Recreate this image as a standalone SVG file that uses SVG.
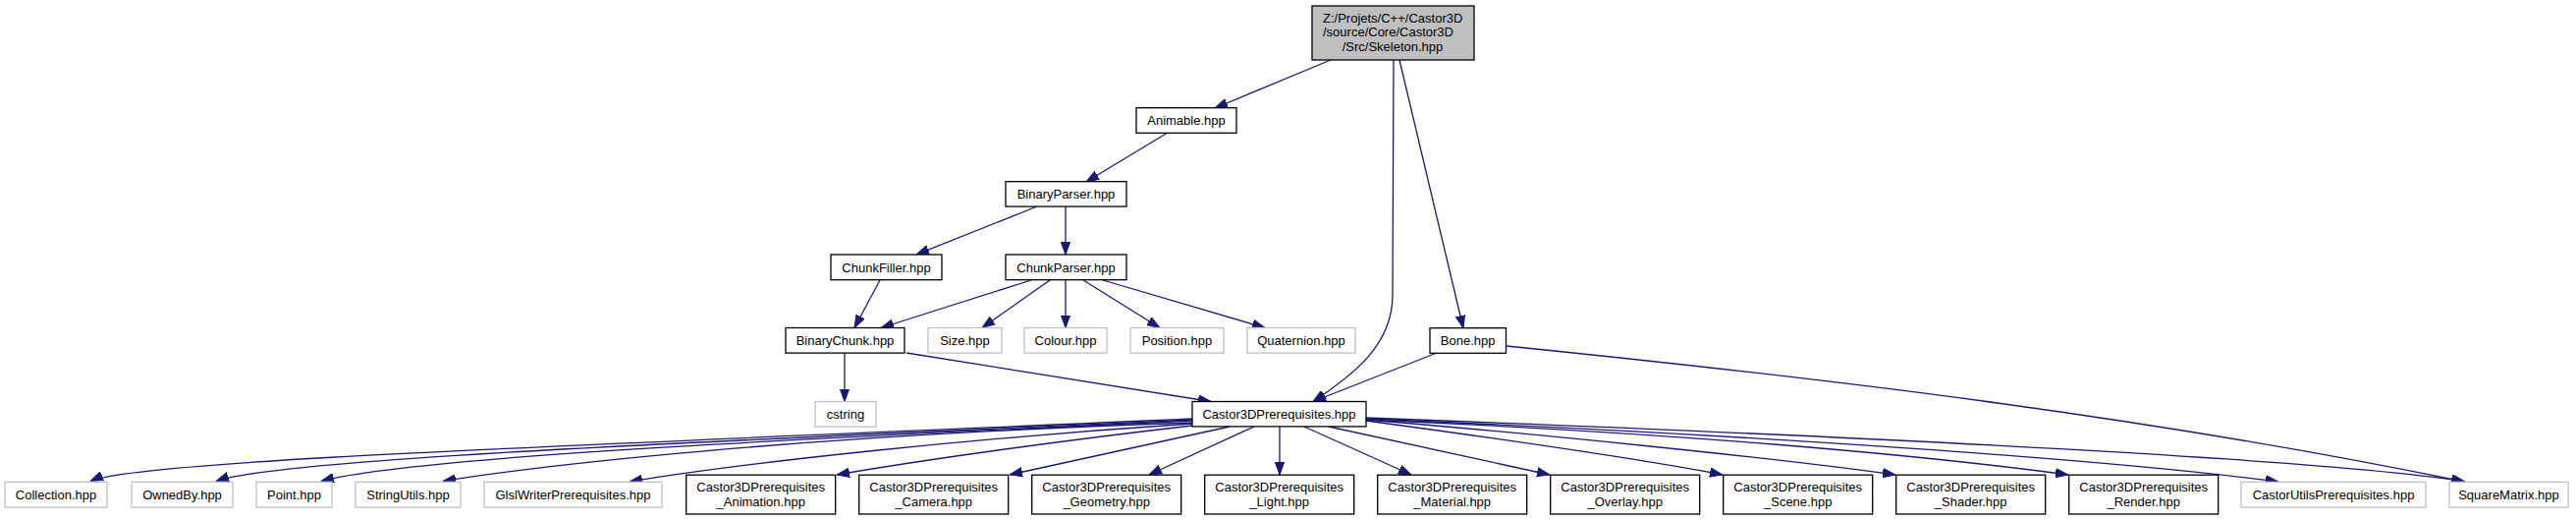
<svg xmlns="http://www.w3.org/2000/svg" width="2623" height="529" viewBox="0 0 2623 529">
<style>
.n rect{fill:#ffffff;stroke:#000000;stroke-width:1.3}
.u rect{fill:#ffffff;stroke:#bfbfbf;stroke-width:1.3}
.root rect{fill:#bfbfbf;stroke:#000000;stroke-width:1.3}
text{font-family:"Liberation Sans",Arial,Helvetica,sans-serif;font-size:13px;fill:#000000}
.c{text-anchor:middle}
#edges path{fill:none;stroke:#191970;stroke-width:1.3;marker-end:url(#arr)}
</style>
<defs>
<marker id="arr" viewBox="0 0 13 10" markerWidth="13" markerHeight="10" refX="13" refY="5" orient="auto" markerUnits="userSpaceOnUse">
<path d="M0,0.3 L13,5 L0,9.7 Z" fill="#191970" stroke="#191970" stroke-width="1"/>
</marker>
</defs>
<rect x="0" y="0" width="2623" height="529" fill="#ffffff"/>

<g id="edges">
<path d="M1355,61 L1237,110"/>
<path d="M1419,61 L1418,300 C1418,350 1380,380 1337,408.5"/>
<path d="M1425,61 L1490,334"/>
<path d="M1188,135.5 L1106,185"/>
<path d="M1056,210 L933,259"/>
<path d="M1085,210 L1085,259"/>
<path d="M896,285 L870,333.5"/>
<path d="M1050,285 L897,333.5"/>
<path d="M1069,285 L1000,333.5"/>
<path d="M1085,285 L1085,333.5"/>
<path d="M1103,285 L1181,333.5"/>
<path d="M1123,285 L1288,333.5"/>
<path d="M860,359 L860,408.5"/>
<path d="M923,359 L1233,408.5"/>
<path d="M1463,359 L1337,408.5"/>
<path d="M1534,352 C1859,385 2183,423 2509,490"/>
<path d="M1214,426 C600,453 140,468 92,489.5"/>
<path d="M1214,427 C650,452 280,468 220,489.5"/>
<path d="M1214,428 C800,447 420,465 327,489.5"/>
<path d="M1214,430 C820,443 560,472 451,489.5"/>
<path d="M1214,431 C1000,445 760,470 641,490"/>
<path d="M1214,433 C1100,446 950,466 852,483"/>
<path d="M1252,434 L1028,483"/>
<path d="M1277,434 L1170,483"/>
<path d="M1303,434 L1303,483"/>
<path d="M1328,434 L1437,483"/>
<path d="M1353,434 L1578,483"/>
<path d="M1391,428 C1480,440 1650,463 1754,483"/>
<path d="M1391,427 C1560,441 1800,465 1930,483"/>
<path d="M1391,427 C1700,440 1950,462 2106,483"/>
<path d="M1391,426 C1800,443 2150,468 2320,490"/>
<path d="M1391,425 C1900,444 2380,468 2510,490"/>
</g>

<g id="node-skeleton" class="root">
<rect x="1336" y="6" width="165" height="55"/>
<text x="1347" y="22.5">Z:/Projets/C++/Castor3D</text>
<text x="1347" y="37.3">/source/Core/Castor3D</text>
<text x="1418" y="52" class="c">/Src/Skeleton.hpp</text>
</g>
<g id="node-animable" class="n">
<rect x="1157" y="109.7" width="102" height="25.6"/>
<text x="1208" y="127" class="c">Animable.hpp</text>
</g>
<g id="node-binaryparser" class="n">
<rect x="1024" y="184.7" width="123" height="25.4"/>
<text x="1085.5" y="202" class="c">BinaryParser.hpp</text>
</g>
<g id="node-chunkfiller" class="n">
<rect x="846" y="259" width="113" height="25.7"/>
<text x="902.5" y="276.5" class="c">ChunkFiller.hpp</text>
</g>
<g id="node-chunkparser" class="n">
<rect x="1024" y="259" width="123" height="25.7"/>
<text x="1085.5" y="276.5" class="c">ChunkParser.hpp</text>
</g>
<g id="node-binarychunk" class="n">
<rect x="800" y="333.5" width="121" height="25.6"/>
<text x="860.5" y="351" class="c">BinaryChunk.hpp</text>
</g>
<g id="node-size" class="u">
<rect x="945" y="333.5" width="75" height="25.6"/>
<text x="982.5" y="351" class="c">Size.hpp</text>
</g>
<g id="node-colour" class="u">
<rect x="1043" y="333.5" width="84" height="25.6"/>
<text x="1085" y="351" class="c">Colour.hpp</text>
</g>
<g id="node-position" class="u">
<rect x="1151" y="333.5" width="95" height="25.6"/>
<text x="1198.5" y="351" class="c">Position.hpp</text>
</g>
<g id="node-quaternion" class="u">
<rect x="1270" y="333.5" width="110" height="25.6"/>
<text x="1325" y="351" class="c">Quaternion.hpp</text>
</g>
<g id="node-bone" class="n">
<rect x="1456" y="333.7" width="77.5" height="25.6"/>
<text x="1494.7" y="351" class="c">Bone.hpp</text>
</g>
<g id="node-cstring" class="u">
<rect x="830" y="408.5" width="62" height="25.6"/>
<text x="861" y="426" class="c">cstring</text>
</g>
<g id="node-castor3dprerequisites" class="n">
<rect x="1214" y="408.5" width="177" height="25.4"/>
<text x="1302.5" y="426" class="c">Castor3DPrerequisites.hpp</text>
</g>

<g id="node-collection" class="u">
<rect x="5" y="490.3" width="104" height="25.9"/>
<text x="57" y="507.8" class="c">Collection.hpp</text>
</g>
<g id="node-ownedby" class="u">
<rect x="134" y="490.3" width="103" height="25.9"/>
<text x="185.5" y="507.8" class="c">OwnedBy.hpp</text>
</g>
<g id="node-point" class="u">
<rect x="261" y="490.3" width="77" height="25.9"/>
<text x="299.5" y="507.8" class="c">Point.hpp</text>
</g>
<g id="node-stringutils" class="u">
<rect x="362" y="490.3" width="107" height="25.9"/>
<text x="415.5" y="507.8" class="c">StringUtils.hpp</text>
</g>
<g id="node-glslwriterprerequisites" class="u">
<rect x="493" y="490.3" width="181" height="25.9"/>
<text x="583.5" y="507.8" class="c">GlslWriterPrerequisites.hpp</text>
</g>
<g id="node-animation" class="n">
<rect x="698.7" y="483.2" width="152" height="39.8"/>
<text x="774.7" y="500" class="c">Castor3DPrerequisites</text>
<text x="774.7" y="515" class="c">_Animation.hpp</text>
</g>
<g id="node-camera" class="n">
<rect x="874.7" y="483.2" width="152" height="39.8"/>
<text x="950.7" y="500" class="c">Castor3DPrerequisites</text>
<text x="950.7" y="515" class="c">_Camera.hpp</text>
</g>
<g id="node-geometry" class="n">
<rect x="1050.7" y="483.2" width="152" height="39.8"/>
<text x="1126.7" y="500" class="c">Castor3DPrerequisites</text>
<text x="1126.7" y="515" class="c">_Geometry.hpp</text>
</g>
<g id="node-light" class="n">
<rect x="1226.7" y="483.2" width="152" height="39.8"/>
<text x="1302.7" y="500" class="c">Castor3DPrerequisites</text>
<text x="1302.7" y="515" class="c">_Light.hpp</text>
</g>
<g id="node-material" class="n">
<rect x="1402.7" y="483.2" width="152" height="39.8"/>
<text x="1478.7" y="500" class="c">Castor3DPrerequisites</text>
<text x="1478.7" y="515" class="c">_Material.hpp</text>
</g>
<g id="node-overlay" class="n">
<rect x="1578.7" y="483.2" width="152" height="39.8"/>
<text x="1654.7" y="500" class="c">Castor3DPrerequisites</text>
<text x="1654.7" y="515" class="c">_Overlay.hpp</text>
</g>
<g id="node-scene" class="n">
<rect x="1754.7" y="483.2" width="152" height="39.8"/>
<text x="1830.7" y="500" class="c">Castor3DPrerequisites</text>
<text x="1830.7" y="515" class="c">_Scene.hpp</text>
</g>
<g id="node-shader" class="n">
<rect x="1930.7" y="483.2" width="152" height="39.8"/>
<text x="2006.7" y="500" class="c">Castor3DPrerequisites</text>
<text x="2006.7" y="515" class="c">_Shader.hpp</text>
</g>
<g id="node-render" class="n">
<rect x="2106.7" y="483.2" width="152" height="39.8"/>
<text x="2182.7" y="500" class="c">Castor3DPrerequisites</text>
<text x="2182.7" y="515" class="c">_Render.hpp</text>
</g>
<g id="node-castorutilsprerequisites" class="u">
<rect x="2282" y="490.3" width="188" height="25.9"/>
<text x="2376" y="507.8" class="c">CastorUtilsPrerequisites.hpp</text>
</g>
<g id="node-squarematrix" class="u">
<rect x="2494" y="490.3" width="121" height="25.9"/>
<text x="2554.5" y="507.8" class="c">SquareMatrix.hpp</text>
</g>
</svg>
